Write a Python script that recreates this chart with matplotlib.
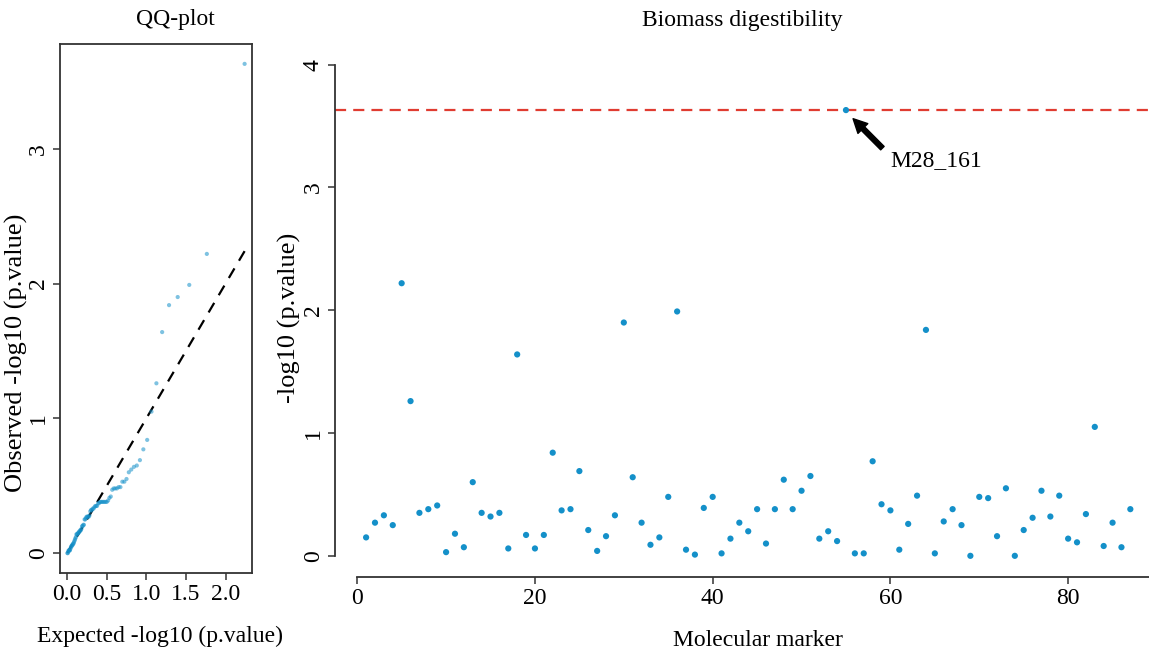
import numpy as np
import matplotlib
matplotlib.use("Agg")
from matplotlib import pyplot as plt

plt.rcParams['font.family'] = ['Liberation Serif', 'DejaVu Serif']

# -log10(p) for each molecular marker
marker_logp = [0.15, 0.27, 0.33, 0.25, 2.22, 1.26, 0.35, 0.38, 0.41, 0.03,
               0.18, 0.07, 0.60, 0.35, 0.32, 0.35, 0.06, 1.64, 0.17, 0.06,
               0.17, 0.84, 0.37, 0.38, 0.69, 0.21, 0.04, 0.16, 0.33, 1.90,
               0.64, 0.27, 0.09, 0.15, 0.48, 1.99, 0.05, 0.01, 0.39, 0.48,
               0.02, 0.14, 0.27, 0.20, 0.38, 0.10, 0.38, 0.62, 0.38, 0.53,
               0.65, 0.14, 0.20, 0.12, 3.63, 0.02, 0.02, 0.77, 0.42, 0.37,
               0.05, 0.26, 0.49, 1.84, 0.02, 0.28, 0.38, 0.25, 0.00, 0.48,
               0.47, 0.16, 0.55, 0.00, 0.21, 0.31, 0.53, 0.32, 0.49, 0.14,
               0.11, 0.34, 1.05, 0.08, 0.27, 0.07, 0.38]
marker_idx = np.arange(1, len(marker_logp) + 1)

threshold = 3.63
top_label = "M28_161"
top_marker = 55

qq_xticks = [0.0, 0.5, 1.0, 1.5, 2.0]
qq_yticks = [0, 1, 2, 3]
mh_xticks = [0, 20, 40, 60, 80]
mh_yticks = [0, 1, 2, 3, 4]

dot_col = '#1490c9'
axis_col = '#333333'
fs = 17

# QQ: observed sorted against uniform quantiles (ppoints)
n = len(marker_logp)
observed = np.sort(marker_logp)[::-1]
expected = -np.log10((np.arange(1, n + 1) - 0.5) / n)

W, H = 1149, 650
fig = plt.figure(figsize=(W / 100, H / 100), dpi=100)


def px_axes(l, r, t, b):
    return fig.add_axes([l / W, 1 - b / H, (r - l) / W, (b - t) / H])


def style_ticks(ax):
    ax.tick_params(direction='out', length=5, width=1.1, color=axis_col,
                   labelsize=fs, pad=3)
    for lab in ax.get_yticklabels():
        lab.set_rotation(90)
        lab.set_va('center')


# ---- QQ plot ----
ax1 = px_axes(60.3, 251.7, 44.3, 572.7)
ax1.scatter(expected, observed, s=9, color=dot_col, alpha=0.55,
            edgecolors='none', zorder=3)
ax1.plot(expected, expected, color='black', lw=1.6, dashes=(5, 4))
xr = expected.max() - expected.min()
yr = observed.max() - observed.min()
ax1.set_xlim(expected.min() - 0.04 * xr, expected.max() + 0.04 * xr)
ax1.set_ylim(observed.min() - 0.04 * yr, observed.max() + 0.04 * yr)
ax1.set_xticks(qq_xticks)
ax1.set_xticklabels(['%.1f' % v for v in qq_xticks])
ax1.set_yticks(qq_yticks)
ax1.set_yticklabels([str(v) for v in qq_yticks])
for s in ax1.spines.values():
    s.set_color(axis_col)
    s.set_linewidth(1.3)
style_ticks(ax1)
ax1.set_title("QQ-plot", fontsize=fs, x=0.6, pad=14)
ax1.set_xlabel("Expected -log10 (p.value)", fontsize=fs)
ax1.xaxis.set_label_coords(0.52, -0.1)
ax1.set_ylabel("Observed -log10 (p.value)", fontsize=19)
ax1.yaxis.set_label_coords(-0.17, 0.416)

# ---- marker plot ----
ax2 = px_axes(335, 1149, 45, 576.7)
ax2.scatter(marker_idx, marker_logp, s=20, color=dot_col, edgecolors='none',
            zorder=3)
ax2.axhline(threshold, color='#e03c31', lw=1.6, dashes=(5, 3.2), zorder=2)
ax2.annotate('', xy=(top_marker + 0.8, threshold - 0.07),
             xytext=(top_marker + 4.1, threshold - 0.31),
             arrowprops=dict(facecolor='black', edgecolor='black', width=3.5,
                             headwidth=10, headlength=10, shrink=0))
ax2.text(top_marker + 5.0, threshold - 0.41, top_label, fontsize=fs,
         ha='left', va='center')
ax2.set_xlim(-2.5, 89.1)
ax2.set_ylim(-0.17, 4.16)
ax2.set_xticks(mh_xticks)
ax2.set_yticks(mh_yticks)
ax2.set_yticklabels([str(v) for v in mh_yticks])
for k in ['top', 'right']:
    ax2.spines[k].set_visible(False)
for k in ['left', 'bottom']:
    ax2.spines[k].set_color(axis_col)
    ax2.spines[k].set_linewidth(1.3)
ax2.spines['left'].set_bounds(0, 4)
ax2.spines['bottom'].set_bounds(0, 89.1)
style_ticks(ax2)
ax2.set_title("Biomass digestibility", fontsize=fs, x=0.5, pad=14)
ax2.set_xlabel("Molecular marker", fontsize=fs)
ax2.xaxis.set_label_coords(0.52, -0.1)
ax2.set_ylabel("-log10 (p.value)", fontsize=19)
ax2.yaxis.set_label_coords(-0.042, 0.487)

fig.savefig('out.png', dpi=100)
